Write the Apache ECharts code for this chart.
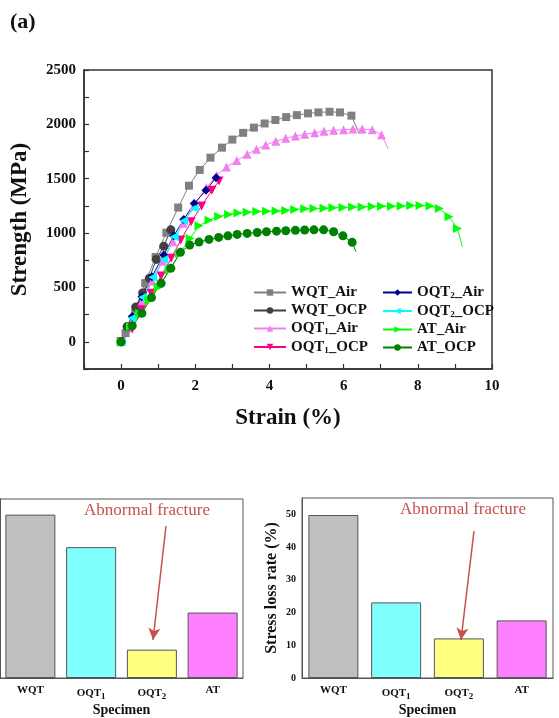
<!DOCTYPE html>
<html>
<head>
<meta charset="utf-8">
<script src="https://cdn.jsdelivr.net/npm/echarts@6/dist/echarts.min.js"></script>
<style>
  html, body { margin: 0; padding: 0; background: #fff; }
  #main { width: 559px; height: 718px; }
</style>
</head>
<body>
<div id="main"></div>
<script>
// strain (%) / strength (MPa) curves
var wqtAir = [[0,0],[0.12,80],[0.38,300],[0.65,540],[0.93,780],[1.22,1003],[1.54,1235],[1.83,1436],[2.12,1581],[2.41,1694],[2.72,1786],[3.0,1860],[3.29,1922],[3.58,1970],[3.87,2008],[4.16,2040],[4.45,2067],[4.74,2085],[5.04,2101],[5.32,2110],[5.62,2116],[5.9,2110],[6.21,2080],[6.42,1914]];
var wqtOcp = [[0,0],[0.16,140],[0.4,320],[0.58,450],[0.76,584],[0.95,758],[1.15,880],[1.34,1030]];
var oqt1Air = [[0,0],[0.28,180],[0.56,370],[0.84,560],[1.12,740],[1.4,920],[1.68,1090],[1.96,1250],[2.3,1420],[2.58,1530],[2.84,1608],[3.12,1668],[3.4,1725],[3.65,1770],[3.9,1810],[4.17,1845],[4.44,1872],[4.7,1893],[4.95,1908],[5.22,1924],[5.47,1937],[5.73,1945],[6.0,1951],[6.25,1957],[6.5,1957],[6.77,1951],[7.02,1905],[7.2,1775]];
var oqt1Ocp = [[0,0],[0.3,117],[0.55,294],[0.81,447],[1.08,605],[1.35,768],[1.61,936],[1.89,1104],[2.17,1250],[2.45,1394],[2.64,1480]];
var oqt2Air = [[0,0],[0.3,232],[0.56,415],[0.83,599],[1.15,798],[1.42,975],[1.69,1125],[1.97,1272],[2.29,1394],[2.56,1510]];
var oqt2Ocp = [[0,0],[0.3,220],[0.58,410],[0.85,593],[1.15,758],[1.43,966],[1.69,1113],[1.97,1228]];
var atAir = [[0,0],[0.25,140],[0.5,260],[0.75,380],[1.0,500],[1.3,660],[1.58,810],[1.86,951],[2.1,1067],[2.37,1119],[2.63,1152],[2.9,1172],[3.15,1185],[3.4,1192],[3.66,1198],[3.92,1202],[4.18,1204],[4.44,1207],[4.68,1217],[4.95,1223],[5.2,1226],[5.47,1229],[5.71,1232],[5.98,1236],[6.24,1239],[6.5,1241],[6.77,1245],[7.02,1248],[7.29,1248],[7.55,1250],[7.81,1254],[8.06,1254],[8.33,1250],[8.58,1226],[8.84,1150],[9.07,1043],[9.2,874]];
var atOcp = [[0,0],[0.3,147],[0.56,263],[0.82,407],[1.08,538],[1.34,676],[1.6,823],[1.85,890],[2.1,917],[2.37,942],[2.63,960],[2.88,975],[3.13,988],[3.4,997],[3.67,1005],[3.92,1012],[4.19,1018],[4.44,1022],[4.7,1025],[4.95,1028],[5.2,1030],[5.46,1030],[5.73,1012],[5.98,975],[6.23,915],[6.33,830]];

// bar charts
var specimens = ['WQT', 'OQT1', 'OQT2', 'AT'];
var leftLoss = [50.2, 40.2, 8.7, 20.1];
var stressLoss = [49.8, 23.1, 12.1, 17.6];
var barColors = ['#c0c0c0', '#80ffff', '#ffff80', '#ff80ff'];

var serif = '"Liberation Serif", "Times New Roman", serif';
var subRich = { s: { fontSize: 9, fontWeight: 'bold', fontFamily: serif, padding: [7, 0, 0, 0] } };
function sub(name) { return name.replace(/OQT(\d)/, 'OQT{s|$1}'); }

var curves = [
  { name: 'WQT_Air', data: wqtAir, color: '#808080', symbol: 'rect', rot: 0, tail: true },
  { name: 'WQT_OCP', data: wqtOcp, color: '#404040', symbol: 'circle', rot: 0 },
  { name: 'OQT1_Air', data: oqt1Air, color: '#f080f0', symbol: 'triangle', rot: 0, tail: true },
  { name: 'OQT1_OCP', data: oqt1Ocp, color: '#ff0080', symbol: 'triangle', rot: 180 },
  { name: 'OQT2_Air', data: oqt2Air, color: '#000090', symbol: 'diamond', rot: 0 },
  { name: 'OQT2_OCP', data: oqt2Ocp, color: '#00ffff', symbol: 'triangle', rot: 90 },
  { name: 'AT_Air', data: atAir, color: '#00ff00', symbol: 'triangle', rot: -90, tail: true },
  { name: 'AT_OCP', data: atOcp, color: '#008000', symbol: 'circle', rot: 0, tail: true }
];

var series = curves.map(function (c) {
  return {
    name: c.name,
    type: 'line',
    xAxisIndex: 0,
    yAxisIndex: 0,
    symbol: c.symbol,
    symbolRotate: c.rot,
    symbolSize: c.symbol === 'rect' ? 8 : 9,
    lineStyle: { width: 1, color: c.color },
    itemStyle: { color: c.color },
    emphasis: { disabled: true },
    data: c.data.map(function (p, i) {
      if (c.tail && i === c.data.length - 1) return { value: p, symbol: 'none' };
      return p;
    })
  };
});

function barSeries(vals, xi, arrow) {
  return {
    type: 'bar',
    xAxisIndex: xi,
    yAxisIndex: xi,
    barWidth: 50,
    data: vals.map(function (v, i) {
      return { value: v, itemStyle: { color: barColors[i], borderColor: '#555', borderWidth: 1 } };
    }),
    markLine: {
      silent: true,
      symbol: ['none', 'arrow'],
      symbolSize: [9, 12],
      label: { show: false },
      lineStyle: { color: '#c8504c', width: 1.5, type: 'solid' },
      data: [[{ x: arrow[0], y: arrow[1] }, { x: arrow[2], y: arrow[3] }]]
    }
  };
}
series.push(barSeries(leftLoss, 1, [166, 526, 153, 640]));
series.push(barSeries(stressLoss, 2, [474, 531, 461, 640]));

var axisLineStyle = { onZero: false, lineStyle: { color: '#333', width: 1.5 } };
var tickFont = { color: '#111', fontFamily: serif, fontWeight: 'bold' };
var legendText = { fontFamily: serif, fontWeight: 'bold', fontSize: 15, color: '#111', rich: subRich };

var chart = echarts.init(document.getElementById('main'));
chart.setOption({
  animation: false,
  backgroundColor: '#fff',
  grid: [
    { left: 84, top: 70, width: 408, height: 299, show: true, borderColor: '#333', borderWidth: 1.5 },
    { left: -4, top: 499, width: 247, height: 183, show: true, borderColor: '#555', borderWidth: 1 },
    { left: 302, top: 498, width: 251, height: 185, show: true, borderColor: '#555', borderWidth: 1 }
  ],
  legend: [
    {
      data: ['WQT_Air', 'WQT_OCP', 'OQT1_Air', 'OQT1_OCP'],
      orient: 'vertical', left: 253, top: 285, padding: 0, itemGap: 3, itemWidth: 32, itemHeight: 8,
      formatter: sub, textStyle: legendText
    },
    {
      data: ['OQT2_Air', 'OQT2_OCP', 'AT_Air', 'AT_OCP'],
      orient: 'vertical', left: 382, top: 285, padding: 0, itemGap: 3, itemWidth: 29, itemHeight: 8,
      formatter: sub, textStyle: legendText
    }
  ],
  xAxis: [
    {
      gridIndex: 0, type: 'value', min: -1, max: 10, interval: 1,
      name: 'Strain (%)', nameLocation: 'middle', nameGap: 38,
      nameTextStyle: { fontFamily: serif, fontWeight: 'bold', fontSize: 23, color: '#111' },
      axisLine: axisLineStyle,
      axisTick: { inside: true, length: 5, lineStyle: { color: '#333', width: 1.2 } },
      axisLabel: Object.assign({ fontSize: 15, margin: 10, formatter: function (v) { return (v >= 0 && v % 2 === 0) ? v : ''; } }, tickFont),
      splitLine: { show: false }
    },
    {
      gridIndex: 1, type: 'category', data: specimens,
      name: 'Specimen', nameLocation: 'middle', nameGap: 25,
      nameTextStyle: { fontFamily: serif, fontWeight: 'bold', fontSize: 14, color: '#111' },
      axisLine: { onZero: false, lineStyle: { color: '#555', width: 1 } },
      axisTick: { inside: true, alignWithLabel: true, length: 4, lineStyle: { color: '#555' } },
      axisLabel: Object.assign({ fontSize: 11, margin: 7, formatter: sub, rich: subRich }, tickFont)
    },
    {
      gridIndex: 2, type: 'category', data: specimens,
      name: 'Specimen', nameLocation: 'middle', nameGap: 25,
      nameTextStyle: { fontFamily: serif, fontWeight: 'bold', fontSize: 14, color: '#111' },
      axisLine: { onZero: false, lineStyle: { color: '#555', width: 1 } },
      axisTick: { inside: true, alignWithLabel: true, length: 4, lineStyle: { color: '#555' } },
      axisLabel: Object.assign({ fontSize: 11, margin: 7, formatter: sub, rich: subRich }, tickFont)
    }
  ],
  yAxis: [
    {
      gridIndex: 0, type: 'value', min: -250, max: 2500, interval: 250,
      name: 'Strength (MPa)', nameLocation: 'middle', nameGap: 52,
      nameTextStyle: { fontFamily: serif, fontWeight: 'bold', fontSize: 23, color: '#111' },
      axisLine: axisLineStyle,
      axisTick: { inside: true, length: 5, lineStyle: { color: '#333', width: 1.2 } },
      axisLabel: Object.assign({ fontSize: 15, margin: 8, formatter: function (v) { return v % 500 === 0 ? v : ''; } }, tickFont),
      splitLine: { show: false }
    },
    {
      gridIndex: 1, type: 'value', min: 0, max: 55, interval: 10,
      axisLine: { show: true, onZero: false, lineStyle: { color: '#555' } },
      axisTick: { inside: true, length: 5, lineStyle: { color: '#555' } },
      axisLabel: { show: false },
      splitLine: { show: false }
    },
    {
      gridIndex: 2, type: 'value', min: 0, max: 55, interval: 10,
      name: 'Stress loss rate (%)', nameLocation: 'middle', nameGap: 22,
      nameTextStyle: { fontFamily: serif, fontWeight: 'bold', fontSize: 16, color: '#111' },
      axisLine: { show: true, onZero: false, lineStyle: { color: '#555', width: 1 } },
      axisTick: { inside: true, length: 4, lineStyle: { color: '#555' } },
      axisLabel: Object.assign({ fontSize: 10, margin: 6, formatter: function (v) { return v % 10 === 0 ? v : ''; } }, tickFont),
      splitLine: { show: false }
    }
  ],
  graphic: [
    { type: 'text', left: 10, top: 11, style: { text: '(a)', font: 'bold 22px ' + serif, fill: '#111' } },
    { type: 'text', x: 147, y: 511, style: { text: 'Abnormal fracture', font: '17px ' + serif, fill: '#c8504c', align: 'center', verticalAlign: 'middle' } },
    { type: 'text', x: 463, y: 510, style: { text: 'Abnormal fracture', font: '17px ' + serif, fill: '#c8504c', align: 'center', verticalAlign: 'middle' } }
  ],
  series: series
});
</script>
</body>
</html>
